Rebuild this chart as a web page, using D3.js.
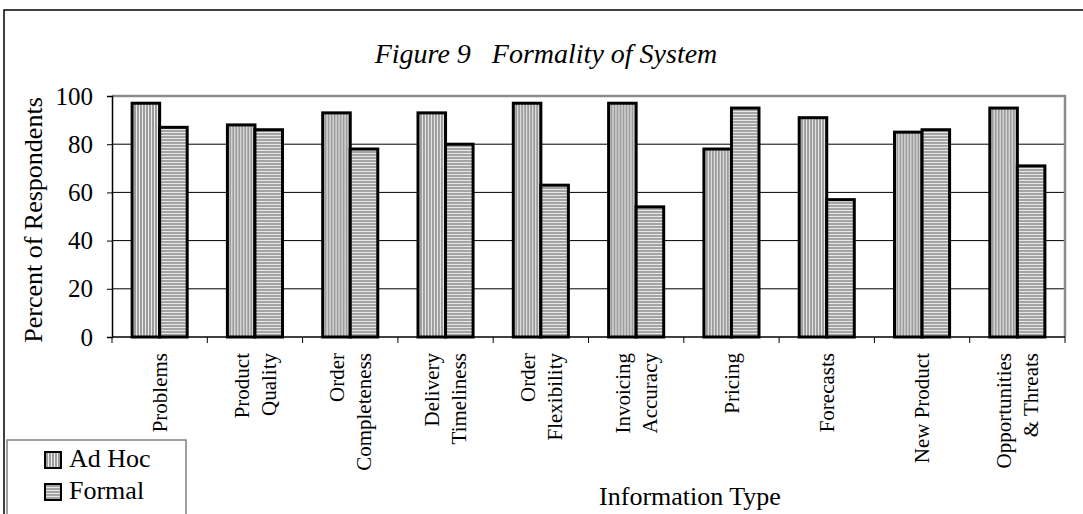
<!DOCTYPE html>
<html>
<head>
<meta charset="utf-8">
<script src="https://cdn.jsdelivr.net/npm/d3@7"></script>
<style>
  body { margin: 0; background: #fff; }
  text { font-family: "Liberation Serif", "Times New Roman", serif; fill: #000; }
</style>
</head>
<body>
<div id="chart"></div>
<script>
// data
var categories = ["Problems", "Product Quality", "Order Completeness", "Delivery Timeliness",
    "Order Flexibility", "Invoicing Accuracy", "Pricing", "Forecasts", "New Product", "Opportunities & Threats"];
// how each category label is broken into lines
var categoryLines = [["Problems"], ["Product", "Quality"], ["Order", "Completeness"], ["Delivery", "Timeliness"],
    ["Order", "Flexibility"], ["Invoicing", "Accuracy"], ["Pricing"], ["Forecasts"], ["New Product"], ["Opportunities", "& Threats"]];
var seriesNames = ["Ad Hoc", "Formal"];
var adHoc = [97, 88, 93, 93, 97, 97, 78, 91, 85, 95];
var formal = [87, 86, 78, 80, 63, 54, 95, 57, 86, 71];
var yTicks = [0, 20, 40, 60, 80, 100];

var width = 1083, height = 514;
var plot = { left: 112, right: 1065, top: 96, bottom: 337 };

var svg = d3.select("#chart").append("svg")
    .attr("width", width)
    .attr("height", height);

// stripe fills
var defs = svg.append("defs");
var pv = defs.append("pattern").attr("id", "vstripe")
    .attr("patternUnits", "userSpaceOnUse").attr("width", 3).attr("height", 3);
pv.append("rect").attr("width", 3).attr("height", 3).attr("fill", "#9c9c9c");
pv.append("rect").attr("width", 1).attr("height", 3).attr("fill", "#ececec");
var ph = defs.append("pattern").attr("id", "hstripe")
    .attr("patternUnits", "userSpaceOnUse").attr("width", 3).attr("height", 3);
ph.append("rect").attr("width", 3).attr("height", 3).attr("fill", "#a4a4a4");
ph.append("rect").attr("width", 3).attr("height", 1).attr("fill", "#e6e6e6");
var fills = { "Ad Hoc": "url(#vstripe)", "Formal": "url(#hstripe)" };

// outer frame
svg.append("rect")
    .attr("x", 4).attr("y", 10)
    .attr("width", width).attr("height", height)
    .attr("fill", "none").attr("stroke", "#000").attr("stroke-width", 1.5);

// title
svg.append("text")
    .attr("x", 546).attr("y", 63)
    .attr("text-anchor", "middle")
    .style("font-size", "28px").style("font-style", "italic")
    .attr("xml:space", "preserve")
    .text("Figure 9   Formality of System");

// scales
var x0 = d3.scaleBand().domain(categories).range([plot.left, plot.right]);
var x1 = d3.scaleBand().domain(seriesNames).range([0, x0.bandwidth()]).paddingOuter(0.73);
var y = d3.scaleLinear().domain([0, 100]).range([plot.bottom, plot.top]);

// gridlines
svg.append("g")
    .selectAll("line")
    .data(yTicks.filter(d => d > 0 && d < 100))
    .join("line")
    .attr("x1", plot.left).attr("x2", plot.right)
    .attr("y1", d => y(d)).attr("y2", d => y(d))
    .attr("stroke", "#000").attr("stroke-width", 1);

// plot border (gray)
svg.append("path")
    .attr("d", `M${plot.left},${y(100)}H${plot.right}V${plot.bottom}`)
    .attr("fill", "none").attr("stroke", "#8c8c8c").attr("stroke-width", 2.5);

// bars
var rows = categories.map((c, i) => ({ cat: c, values: [adHoc[i], formal[i]] }));
var groups = svg.append("g")
    .selectAll("g")
    .data(rows)
    .join("g")
    .attr("transform", d => `translate(${x0(d.cat)},0)`);
groups.selectAll("rect")
    .data(d => d.values.map((v, j) => ({ key: seriesNames[j], value: v })))
    .join("rect")
    .attr("x", d => x1(d.key))
    .attr("width", x1.bandwidth())
    .attr("y", d => y(d.value))
    .attr("height", d => y(0) - y(d.value))
    .attr("fill", d => fills[d.key])
    .attr("stroke", "#000").attr("stroke-width", 3);

// y axis
var yAxis = svg.append("g")
    .attr("transform", `translate(${plot.left},0)`)
    .call(d3.axisLeft(y).tickValues(yTicks).tickSize(5).tickPadding(14));
yAxis.select(".domain").attr("stroke", "#000").attr("stroke-width", 1.5);
yAxis.selectAll(".tick line").attr("stroke", "#000");
yAxis.selectAll(".tick text")
    .style("font-size", "25px")
    .style("font-family", "'Liberation Serif', serif");

// x axis line + tick marks at band edges
var edges = categories.map(c => x0(c)).concat([plot.right]);
svg.append("line")
    .attr("x1", plot.left).attr("x2", plot.right)
    .attr("y1", plot.bottom).attr("y2", plot.bottom)
    .attr("stroke", "#000").attr("stroke-width", 1.5);
svg.append("g")
    .selectAll("line")
    .data(edges)
    .join("line")
    .attr("x1", d => d).attr("x2", d => d)
    .attr("y1", plot.bottom).attr("y2", plot.bottom + 6)
    .attr("stroke", "#000");

// category labels (rotated)
var lineGap = 27;
var labels = svg.append("g")
    .selectAll("text")
    .data(categories)
    .join("text")
    .attr("transform", d => `translate(${x0(d) + x0.bandwidth() / 2},353) rotate(-90)`)
    .attr("text-anchor", "end")
    .style("font-size", "21px");
labels.each(function (d, i) {
    var lines = categoryLines[i];
    var t = d3.select(this);
    lines.forEach((ln, k) => {
        t.append("tspan")
            .attr("x", 0)
            .attr("y", (k - (lines.length - 1) / 2) * lineGap)
            .attr("dy", "0.35em")
            .text(ln);
    });
});

// axis titles
svg.append("text")
    .attr("transform", "translate(42,220) rotate(-90)")
    .attr("text-anchor", "middle")
    .style("font-size", "26px")
    .text("Percent of Respondents");
svg.append("text")
    .attr("x", 690).attr("y", 505)
    .attr("text-anchor", "middle")
    .style("font-size", "26px")
    .text("Information Type");

// legend
var legend = svg.append("g");
legend.append("rect")
    .attr("x", 7).attr("y", 440)
    .attr("width", 179).attr("height", 100)
    .attr("fill", "#fff").attr("stroke", "#808080").attr("stroke-width", 1.5);
var items = legend.selectAll("g.item")
    .data(seriesNames)
    .join("g")
    .attr("class", "item")
    .attr("transform", (d, i) => `translate(45,${452 + i * 32})`);
items.append("rect")
    .attr("width", 16).attr("height", 16)
    .attr("fill", d => fills[d])
    .attr("stroke", "#000").attr("stroke-width", 2);
items.append("text")
    .attr("x", 24).attr("y", 15)
    .style("font-size", "26px")
    .text(d => d);
</script>
</body>
</html>
